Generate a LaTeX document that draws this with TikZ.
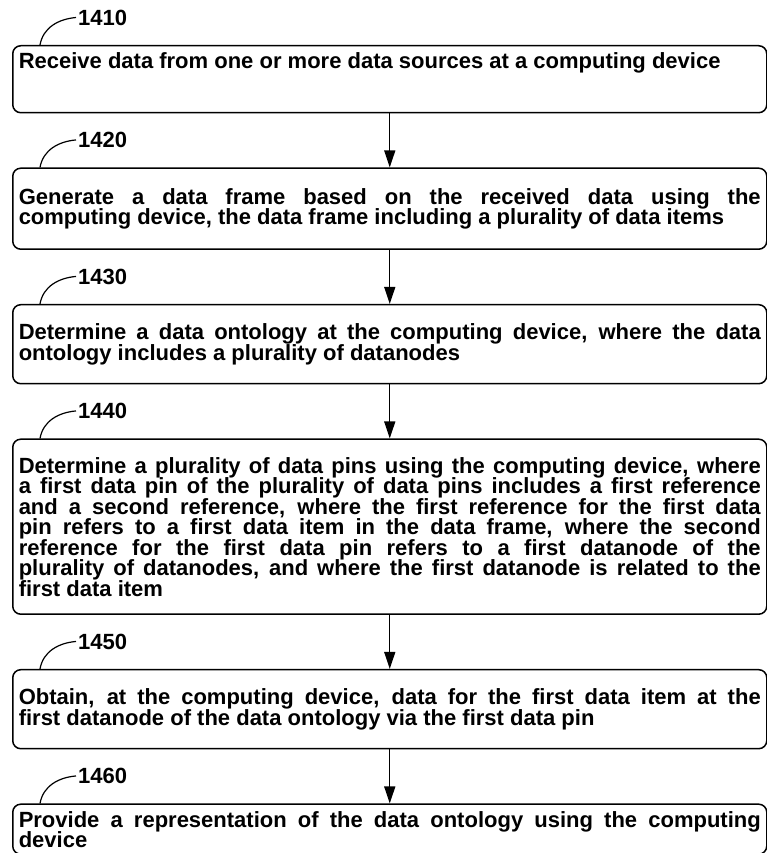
\documentclass[tikz,border=0pt]{standalone}
\usepackage{fontspec}
\setmainfont{Liberation Sans}
\usepackage{tikz}
\usetikzlibrary{positioning,arrows.meta,calc}
\tikzset{flowstep/.style={draw=black, rounded corners=8pt, line width=1.5pt, align=justify, text width=742pt, inner xsep=6pt, inner ysep=7pt, font={\bfseries\fontsize{22}{20.5}\selectfont\lineskiplimit-8pt\relax}}, flowlabel/.style={anchor=west, inner sep=2pt, font=\bfseries\fontsize{22}{22}\selectfont}, flowarrow/.style={-{Triangle[length=17pt,width=11pt]}, line width=1.4pt}, leader/.style={line width=1.2pt}}

\begin{document}
\begin{tikzpicture}[node distance=54pt]
\useasboundingbox (0,0) rectangle (767pt,-853pt);
% steps
\node[flowstep, anchor=north west, text depth=37pt] (s1410) at (12pt,-45pt) {Receive data from one or more data sources at a computing device};
\node[flowstep, below=of s1410, minimum height=81pt] (s1420) {Generate a data frame based on the received data using the\linebreak computing device, the data frame including a plurality of data items};
\node[flowstep, below=of s1420, minimum height=79pt] (s1430) {Determine a data ontology at the computing device, where the data\linebreak ontology includes a plurality of datanodes};
\node[flowstep, below=of s1430, minimum height=175pt] (s1440) {Determine a plurality of data pins using the computing device, where\linebreak a first data pin of the plurality of data pins includes a first reference\linebreak and a second reference, where the first reference for the first data\linebreak pin refers to a first data item in the data frame, where the second\linebreak reference for the first data pin refers to a first datanode of the\linebreak plurality of datanodes, and where the first datanode is related to the\linebreak first data item};
\node[flowstep, below=of s1440, minimum height=79pt] (s1450) {Obtain, at the computing device, data for the first data item at the\linebreak first datanode of the data ontology via the first data pin};
\node[flowstep, below=of s1450, text depth=20pt] (s1460) {Provide a representation of the data ontology using the computing\linebreak device};
% reference numerals
\foreach \s in {1410,1420,1430,1440,1450,1460} {
  \node[flowlabel] (l\s) at ($(s\s.north west)+(64pt,27.5pt)$) {\s};
  \draw[leader] ($(s\s.north west)+(28pt,0)$) to[out=80,in=185] (l\s.west);
}
\draw[flowarrow] (s1410) -- (s1420);
\draw[flowarrow] (s1420) -- (s1430);
\draw[flowarrow] (s1430) -- (s1440);
\draw[flowarrow] (s1440) -- (s1450);
\draw[flowarrow] (s1450) -- (s1460);
\end{tikzpicture}
\end{document}
